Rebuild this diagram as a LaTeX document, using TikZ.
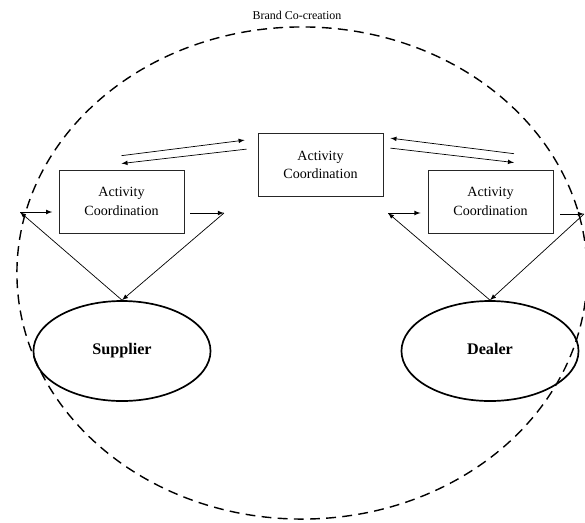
\documentclass[tikz,border=0pt]{standalone}
\usepackage{fontspec}
\setmainfont{Liberation Serif}
\usetikzlibrary{arrows,shapes.geometric}

\begin{document}
\begin{tikzpicture}[x=0.025cm,y=-0.025cm,
    actbox/.style={draw=black!85, line width=0.6pt, minimum width=3.125cm, minimum height=1.575cm,
                   text width=3cm, align=center, inner sep=0pt, font=\fontsize{10}{13}\selectfont},
    party/.style={draw, ellipse, line width=1.2pt, minimum width=4.425cm, minimum height=2.5cm,
                  inner sep=0pt, text height=1.5ex, text depth=0.5ex, font=\fontsize{11.5}{13}\selectfont\bfseries},
    link/.style={-latex, line width=0.5pt}]
      \useasboundingbox (0,0) rectangle (585,522);
      %%%%%%%%%%%%%%%%%%%%%%%%%%%%%%%%%%%%%%%%%%%%%%%
      \node[draw, ellipse, dash pattern=on 7pt off 4.5pt, line width=1pt, minimum width=14.25cm, minimum height=12.3cm] at (302,273) (brand) {};
      \node at (297,15) (title) {\fontsize{8.5}{10}\selectfont Brand Co-creation};
      %%%%%%%%%%%%%%%%%%%%%%%%%%%%%%%%%%%%%%%%%%%%%%%
      \node[actbox] at (320.5,165)   (actT) {Activity\\Coordination};
      \node[actbox] at (121.5,201.5) (actL) {Activity\\Coordination};
      \node[actbox] at (490.5,201.5) (actR) {Activity\\Coordination};
      %%%%%%%%%%%%%%%%%%%%%%%%%%%%%%%%%%%%%%%%%%%%%%%
      \node[party] at (122,351) (sup) {Supplier};
      \node[party] at (490,351) (dea) {Dealer};
      %%%%%%%%%%%%%%%%%%%%%%%%%%%%%%%%%%%%%%%%%%%%%%%
      \coordinate (sl) at (20,212);
      \coordinate (sr) at (224,213);
      \coordinate (dl) at (388,213);
      \coordinate (dr) at (584,214);
      \draw[link] (sup.north) -- (sl);
      \draw[link, shorten >=4.5pt] (sl) -- (sl -| actL.west);
      \draw[link, shorten <=4pt] (sr -| actL.east) -- (sr);
      \draw[link] (sr) -- (sup.north);
      \draw[link] (dea.north) -- (dl);
      \draw[link, shorten >=5pt] (dl) -- (dl -| actR.west);
      \draw[link, shorten <=5pt] (dr -| actR.east) -- (dr);
      \draw[link] (dr) -- (dea.north);
      %%%%%%%%%%%%%%%%%%%%%%%%%%%%%%%%%%%%%%%%%%%%%%%
      \draw[link] ([yshift=9.9pt]actL.north) -- ([xshift=-9.2pt,yshift=17.7pt]actT.west);
      \draw[link] ([xshift=-7.8pt,yshift=11.3pt]actT.west) -- ([yshift=4.3pt]actL.north);
      \draw[link] ([xshift=16.7pt,yshift=11.3pt]actR.north) -- ([xshift=5pt,yshift=19.1pt]actT.east);
      \draw[link] ([xshift=5pt,yshift=12pt]actT.east) -- ([xshift=16.7pt,yshift=5pt]actR.north);
      %%%%%%%%%%%%%%%%%%%%%%%%%%%%%%%%%%%%%%%%%%%%%%%
\end{tikzpicture}
\end{document}
